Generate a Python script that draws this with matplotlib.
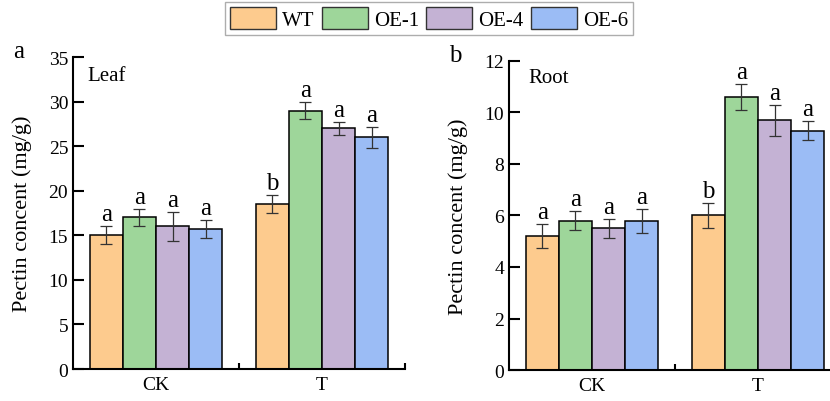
import matplotlib
matplotlib.use('Agg')
import matplotlib.pyplot as plt
import numpy as np
from matplotlib.patches import Patch

plt.rcParams['font.family'] = ['Liberation Serif', 'DejaVu Serif']

groups = ['CK', 'T']
lines = ['WT', 'OE-1', 'OE-4', 'OE-6']
colors = ['#fdcb8e', '#9ed69a', '#c4b2d4', '#9bbcf5']

leaf_mean = [[15.0, 17.0, 16.0, 15.7], [18.5, 29.0, 27.0, 26.0]]
leaf_err = [[1.0, 1.0, 1.6, 1.0], [1.0, 1.0, 0.7, 1.2]]
leaf_sig = [['a', 'a', 'a', 'a'], ['b', 'a', 'a', 'a']]

root_mean = [[5.2, 5.8, 5.5, 5.8], [6.0, 10.6, 9.7, 9.3]]
root_err = [[0.48, 0.38, 0.37, 0.47], [0.47, 0.5, 0.6, 0.38]]
root_sig = [['a', 'a', 'a', 'a'], ['b', 'a', 'a', 'a']]


def panel(ax, mean, err, sig, ymax, ystep, tag, organ, organ_xy):
    for g in range(len(groups)):
        for i in range(len(lines)):
            x = g * 5 + 1 + i
            ax.bar(x, mean[g][i], width=1.0, color=colors[i], edgecolor='black',
                   linewidth=1.1, zorder=2)
            ax.errorbar(x, mean[g][i], yerr=err[g][i], color='#333333', capsize=4,
                        elinewidth=0.9, capthick=0.9, zorder=3)
            ax.text(x, mean[g][i] + err[g][i] + ymax * 0.003, sig[g][i], ha='center',
                    va='bottom', fontsize=18)
    ax.set_xlim(0, 10)
    ax.set_ylim(0, ymax)
    ax.set_yticks(np.arange(0, ymax + 0.01, ystep))
    ax.set_xticks([5, 10])
    ax.set_xticklabels([])
    ax.set_xticks([2.5, 7.5], minor=True)
    ax.set_xticklabels(groups, minor=True, fontsize=14)
    ax.tick_params(axis='x', which='minor', length=0, pad=5)
    ax.tick_params(axis='x', which='major', direction='in', length=4, width=1.5)
    ax.tick_params(axis='y', direction='in', length=8, width=1.5, labelsize=14)
    for s in ['top', 'right']:
        ax.spines[s].set_visible(False)
    for s in ['left', 'bottom']:
        ax.spines[s].set_linewidth(1.5)
    ax.set_ylabel('Pectin concent (mg/g)', fontsize=16)
    ax.yaxis.set_label_coords(-0.123, 0.5)
    ax.text(-0.163, 1.02, tag, transform=ax.transAxes, fontsize=18, ha='center', va='center')
    ax.text(organ_xy[0], organ_xy[1], organ, transform=ax.transAxes, fontsize=15,
            ha='left', va='center')


fig = plt.figure(figsize=(8.3, 4.02), dpi=100)
ax1 = fig.add_axes([0.088, 0.0796, 0.4, 0.776])
ax2 = fig.add_axes([0.6133, 0.0771, 0.4, 0.7687])
panel(ax1, leaf_mean, leaf_err, leaf_sig, 35, 5, 'a', 'Leaf', (0.042, 0.942))
panel(ax2, root_mean, root_err, root_sig, 12, 2, 'b', 'Root', (0.057, 0.948))

handles = [Patch(facecolor=c, edgecolor='#333333', linewidth=1) for c in colors]
fig.legend(handles, lines, loc='center', bbox_to_anchor=(0.517, 0.951), ncol=4,
           fontsize=15, frameon=True, fancybox=False, edgecolor='#999999',
           handlelength=2.2, handleheight=1.2, handletextpad=0.3, columnspacing=0.35,
           borderpad=0.25, borderaxespad=0.0)

fig.savefig('out.png', dpi=100)
